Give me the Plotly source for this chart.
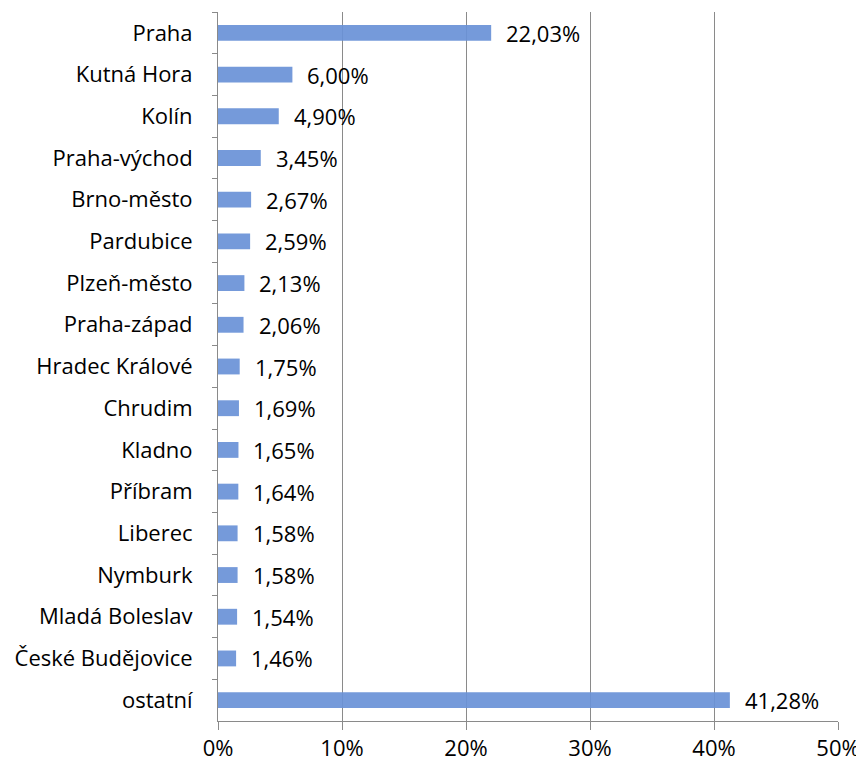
import plotly.graph_objects as go

categories = ["Praha", "Kutná Hora", "Kolín", "Praha-východ", "Brno-město", "Pardubice",
              "Plzeň-město", "Praha-západ", "Hradec Králové", "Chrudim", "Kladno", "Příbram",
              "Liberec", "Nymburk", "Mladá Boleslav", "České Budějovice", "ostatní"]
values = [22.03, 6.00, 4.90, 3.45, 2.67, 2.59, 2.13, 2.06, 1.75, 1.69, 1.65, 1.64,
          1.58, 1.58, 1.54, 1.46, 41.28]
labels = [f"{v:.2f}%".replace(".", ",") for v in values]
tick_vals = [0, 10, 20, 30, 40, 50]
tick_text = ["0%", "10%", "20%", "30%", "40%", "50%"]

FONT = "Open Sans, Segoe UI, Noto Sans, sans-serif"
FS = 22

fig = go.Figure(go.Bar(
    x=values, y=categories, orientation="h",
    marker=dict(color="rgba(105,145,215,0.92)", line=dict(width=0)),
    hoverinfo="skip",
))

for c, v, t in zip(categories, values, labels):
    fig.add_annotation(x=v, y=c, text=t, showarrow=False, xanchor="left",
                       xshift=13, font=dict(family=FONT, size=FS, color="#000"))

# page body has an 8px default margin; figure sized to the visible area
fig.update_layout(
    width=856, height=759,
    margin=dict(l=210, r=26, t=4, b=46),
    paper_bgcolor="white", plot_bgcolor="white",
    bargap=0.62, showlegend=False,
    font=dict(family=FONT, size=FS, color="#000"),
)
fig.update_xaxes(range=[0, 50], tickvals=tick_vals, ticktext=tick_text,
                 showgrid=True, gridcolor="#8a8a8a", gridwidth=1,
                 showline=True, linecolor="#8a8a8a", linewidth=1, mirror=False,
                 ticks="outside", ticklen=8, tickcolor="#8a8a8a", zeroline=False,
                 tickfont=dict(size=FS), fixedrange=True, automargin=False)
fig.update_yaxes(autorange="reversed", type="category", tickson="boundaries",
                 showline=True, linecolor="#8a8a8a", linewidth=1,
                 ticks="outside", ticklen=5, tickcolor="#8a8a8a", showgrid=False,
                 ticklabelstandoff=20, tickfont=dict(size=FS), fixedrange=True,
                 automargin=False)

fig.write_html("out.html")
